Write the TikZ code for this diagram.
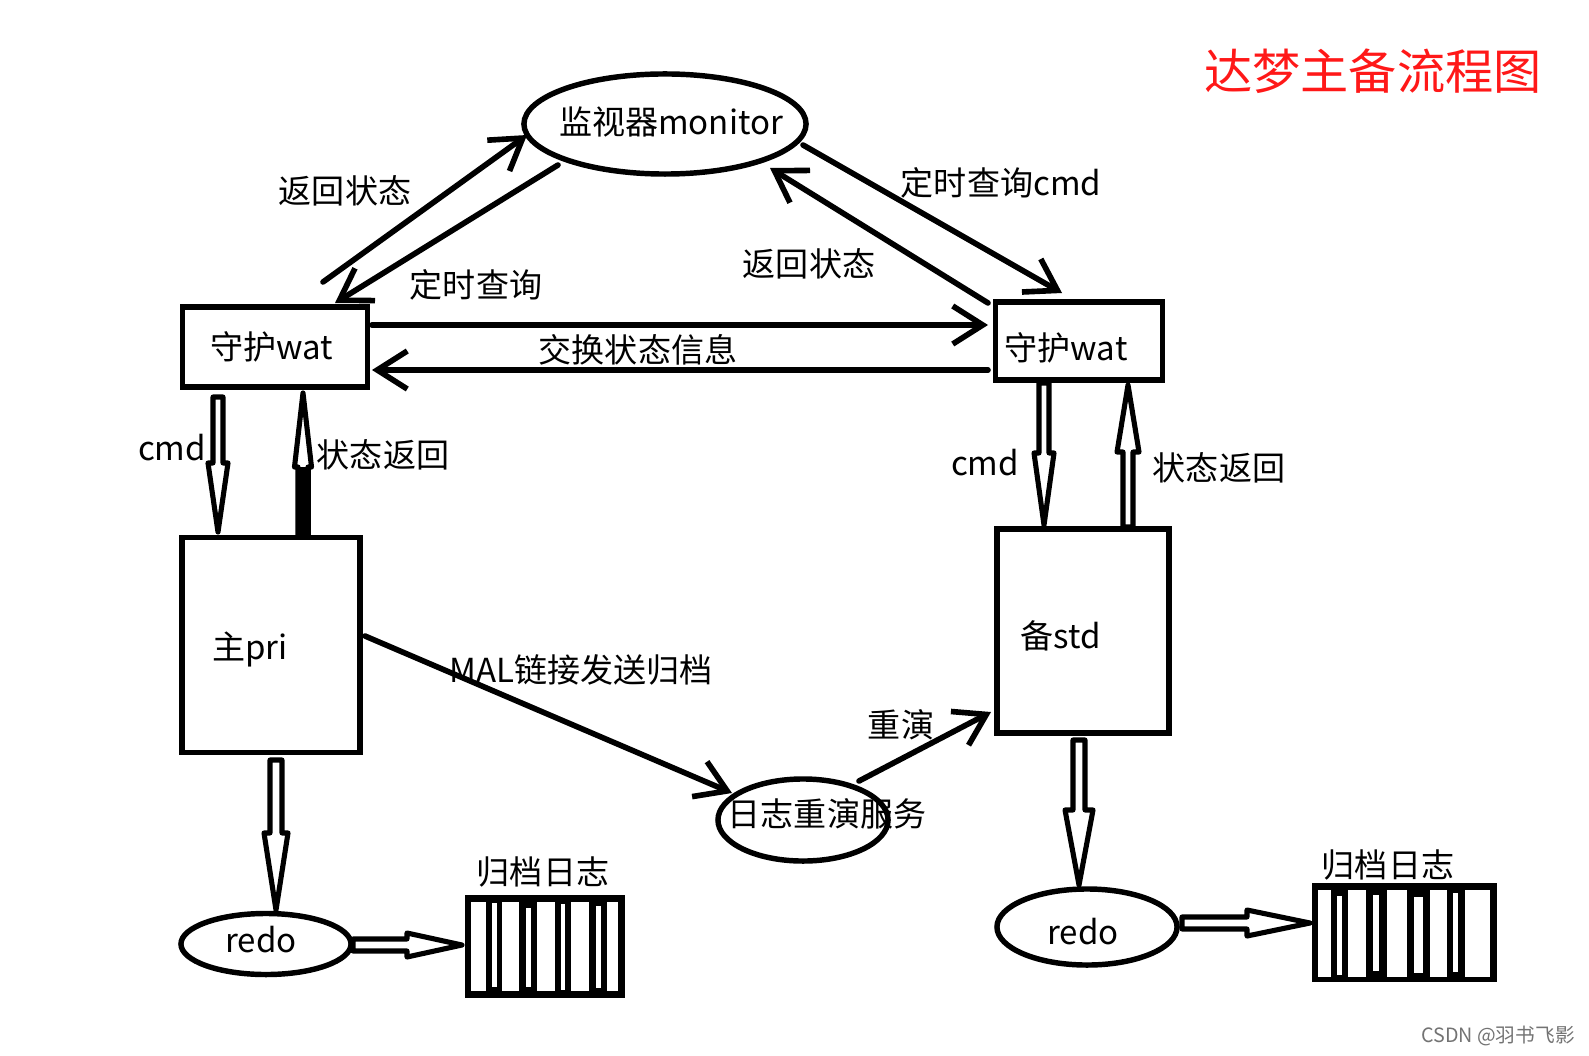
\documentclass[tikz,border=0pt]{standalone}
\usepackage{fontspec}
\setmainfont{Noto Sans CJK SC}
\usetikzlibrary{shapes.geometric,arrows.meta,calc}
\definecolor{titlered}{RGB}{255,24,24}
\newcommand\hollowarrow[5]{% #1 from, #2 to, #3 half shaft, #4 half head, #5 head length
  \coordinate (hap) at ($(#2)!#5!(#1)$);
  \draw[hollow] ($(#1)!#3!90:(#2)$) -- ($(hap)!#3!90:(#2)$) -- ($(hap)!#4!90:(#2)$) -- (#2) -- ($(hap)!#4!-90:(#2)$) -- ($(hap)!#3!-90:(#2)$) -- ($(#1)!#3!-90:(#2)$) -- cycle;}
\begin{document}
\begin{tikzpicture}[x=0.01cm,y=-0.01cm,
  boxnode/.style={draw, line width=1.6pt, rectangle, inner sep=0pt},
  ellnode/.style={draw, line width=1.55pt, ellipse, inner sep=0pt},
  txt/.style={font=\fontsize{9.4pt}{11pt}\selectfont, inner sep=0pt},
  thinarr/.style={line width=1.6pt, line cap=round, -{Straight Barb[length=0.3cm,width=0.38cm]}},
  hollow/.style={line width=1.45pt, line join=round, fill=white},
  archbox/.style={fill=black, rectangle, inner sep=0pt}]
\fill[white] (0,0) rectangle (1589,1055);
\useasboundingbox (0,0) rectangle (1589,1055);

% title and watermark
\node[inner sep=0pt, text=titlered, font=\fontsize{13.7pt}{15pt}\selectfont] (title) at (1373,71) {达梦主备流程图};
\node[inner sep=0pt, text=black!55, font=\fontsize{5.6pt}{7pt}\selectfont] (wm) at (1498,1036) {CSDN @羽书飞影};

% main nodes
\node[ellnode, minimum width=2.82cm, minimum height=1.0cm] (mon) at (665,124) {};
\node[txt] (mont) at (671,122) {监视器monitor};
\node[boxnode, minimum width=1.85cm, minimum height=0.80cm] (lw) at (275,347) {};
\node[txt] (lwt) at (272,347) {守护wat};
\node[boxnode, minimum width=1.67cm, minimum height=0.78cm] (rw) at (1079,341) {};
\node[txt] (rwt) at (1066,348) {守护wat};
\node[boxnode, minimum width=1.78cm, minimum height=2.15cm] (pri) at (271,645) {};
\node[txt] (prit) at (250,649) {主pri};
\node[boxnode, minimum width=1.72cm, minimum height=2.04cm] (std) at (1083,631) {};
\node[txt] (stdt) at (1061,636) {备std};
\node[ellnode, minimum width=1.70cm, minimum height=0.82cm] (svc) at (803,820) {};
\node[txt] (svct) at (827,814) {日志重演服务};
\node[ellnode, minimum width=1.70cm, minimum height=0.61cm] (lredo) at (266,944) {};
\node[txt] (lredot) at (261,940) {redo};
\node[ellnode, minimum width=1.80cm, minimum height=0.76cm] (rredo) at (1087,927) {};
\node[txt] (rredot) at (1083,932) {redo};

% archive logs
\node[archbox, minimum width=1.60cm, minimum height=1.03cm] (larch) at (545,946.5) {};
\foreach \a/\b in {471/486,502/519,537/555,571/589,607/618}
  \fill[white] (\a,902) rectangle (\b,991);
\foreach \a/\b/\c/\d in {492/497/903/987,526/531/908/987,561/565/904/990,596/601/906/988}
  \fill[white] (\a,\c) rectangle (\b,\d);
\node[txt] (larcht) at (543,872) {归档日志};
\node[archbox, minimum width=1.85cm, minimum height=0.99cm] (rarch) at (1404.5,932.5) {};
\foreach \a/\b in {1318/1331,1348/1366,1387/1407,1430/1447,1465/1490}
  \fill[white] (\a,890) rectangle (\b,977);
\foreach \a/\b/\c/\d in {1337/1342/896/975,1373/1379/895/971,1414/1423/897/973,1453/1458/893/972}
  \fill[white] (\a,\c) rectangle (\b,\d);
\node[txt] (rarcht) at (1388,865) {归档日志};

% labels
\node[txt] (l1) at (345,191) {返回状态};
\node[txt] (l2) at (476,285) {定时查询};
\node[txt] (l3) at (809,264) {返回状态};
\node[txt] (l4) at (1001,183) {定时查询cmd};
\node[txt] (l5) at (638,350) {交换状态信息};
\node[txt] (l6) at (172,448) {cmd};
\node[txt] (l7) at (383,455) {状态返回};
\node[txt] (l8) at (985,463) {cmd};
\node[txt] (l9) at (1219,468) {状态返回};
\node[txt] (l10) at (581,670) {MAL链接发送归档};
\node[txt] (l11) at (901,725) {重演};

% thin arrows
\coordinate (a1s) at (323,282); \coordinate (a1e) at (527,135);
\coordinate (a2s) at (558,165); \coordinate (a2e) at (335,303);
\coordinate (a3s) at (803,145); \coordinate (a3e) at (1062,293);
\coordinate (a4s) at (988,303); \coordinate (a4e) at (770,168);
\coordinate (a5s) at (372,325); \coordinate (a5e) at (988,325);
\coordinate (a6s) at (988,370); \coordinate (a6e) at (372,370);
\coordinate (a7s) at (365,636); \coordinate (a7e) at (732,793);
\coordinate (a8s) at (859,781); \coordinate (a8e) at (991,712);
\foreach \i in {1,...,8} \draw[thinarr] (a\i s) -- (a\i e);

% hollow arrows
\coordinate (cmdLa) at (218,397); \coordinate (cmdLb) at (218,532);
\coordinate (stLa) at (303,535); \coordinate (stLb) at (303,393);
\coordinate (cmdRa) at (1044,383); \coordinate (cmdRb) at (1044,525);
\coordinate (stRa) at (1128,527); \coordinate (stRb) at (1128,385);
\coordinate (rdLa) at (276,760); \coordinate (rdLb) at (276,910);
\coordinate (rdRa) at (1079,740); \coordinate (rdRb) at (1079,885);
\coordinate (arLa) at (353,945); \coordinate (arLb) at (462,945);
\coordinate (arRa) at (1182,923); \coordinate (arRb) at (1310,923);

\hollowarrow{cmdLa}{cmdLb}{0.05cm}{0.10cm}{0.69cm}
\hollowarrow{stLa}{stLb}{0.05cm}{0.085cm}{0.74cm}
\draw[line width=0.15cm] (stLa) -- (hap);
\hollowarrow{cmdRa}{cmdRb}{0.05cm}{0.10cm}{0.72cm}
\hollowarrow{stRa}{stRb}{0.05cm}{0.11cm}{0.67cm}
\hollowarrow{rdLa}{rdLb}{0.06cm}{0.12cm}{0.77cm}
\hollowarrow{rdRa}{rdRb}{0.06cm}{0.14cm}{0.75cm}
\hollowarrow{arLa}{arLb}{0.06cm}{0.12cm}{0.55cm}
\hollowarrow{arRa}{arRb}{0.06cm}{0.13cm}{0.63cm}
\end{tikzpicture}
\end{document}
